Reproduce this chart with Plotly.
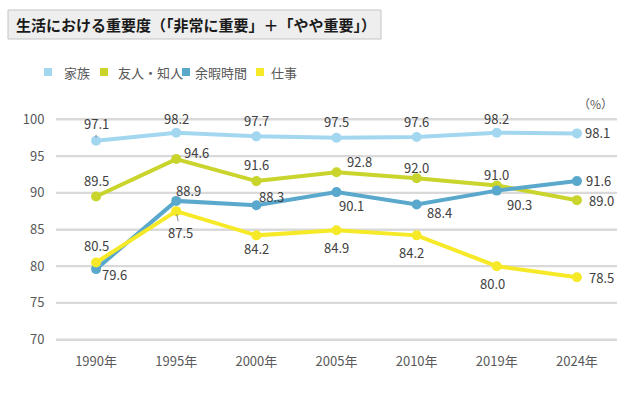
import plotly.graph_objects as go

years = ["1990年", "1995年", "2000年", "2005年", "2010年", "2019年", "2024年"]
family = [97.1, 98.2, 97.7, 97.5, 97.6, 98.2, 98.1]
friends = [89.5, 94.6, 91.6, 92.8, 92.0, 91.0, 89.0]
leisure = [79.6, 88.9, 88.3, 90.1, 88.4, 90.3, 91.6]
work = [80.5, 87.5, 84.2, 84.9, 84.2, 80.0, 78.5]
y_ticks = [70, 75, 80, 85, 90, 95, 100]

names = ["家族", "友人・知人", "余暇時間", "仕事"]
colors = ["#a3d7f0", "#c9d42c", "#5aa9cc", "#f6e927"]
series = [family, friends, leisure, work]

# label offsets (px) relative to each point: (xshift, yshift)
offsets = [
    [(0, 17), (0, 14.5), (0, 16), (0, 16.5), (0, 16), (0, 14.5), (21, 1)],
    [(0, 16), (20, 7), (0, 17), (23, 10.5), (0, 11), (0, 11), (25, 0)],
    [(18, -5), (12, 10), (15, 9), (15, -13.5), (23, -8), (23, -14), (22, 1)],
    [(0, 17), (4, -21), (0, -13), (0, -17), (-5, -17), (-4, -17), (25, 0)],
]
arrow_pts = {(0, 0), (3, 1)}

FONT = "Noto Sans CJK JP"
GRID = "#d9d9d9"
W, H = 640, 409
ML, MR, MT, MB = 56, 23, 118, 68
PW, PH = W - ML - MR, H - MT - MB
Y0, Y1 = 69.8, 100.2
UNIT_PX = PH / (Y1 - Y0)


def px(x, y):
    return (x - ML) / PW, (H - MB - y) / PH


fig = go.Figure()

for name, col, vals in zip(names, colors, series):
    fig.add_trace(go.Scatter(
        x=years, y=vals, mode="lines+markers", name=name,
        line=dict(color=col, width=4), marker=dict(color=col, size=10),
        showlegend=False, cliponaxis=False, hoverinfo="skip"))

annotations = []
shapes = []

# horizontal gridlines as thin filled bands (2px tall) beneath the data
half = 1.0 / UNIT_PX
for t in y_ticks:
    shapes.append(dict(type="rect", xref="paper", yref="y", x0=0, x1=1,
                       y0=t - half, y1=t + half, layer="below",
                       fillcolor=GRID, line=dict(width=0)))

for si, (vals, offs) in enumerate(zip(series, offsets)):
    for pi, (yr, v) in enumerate(zip(years, vals)):
        dx, dy = offs[pi]
        txt = f"{v:.1f}"
        if (si, pi) in arrow_pts:
            annotations.append(dict(
                x=yr, y=v, xref="x", yref="y", text=txt, showarrow=True,
                ax=dx, ay=-dy, arrowhead=0, arrowwidth=1, arrowcolor="#8a8a8a",
                standoff=3, font=dict(family=FONT, size=13, color="#404040")))
        else:
            annotations.append(dict(
                x=yr, y=v, xref="x", yref="y", text=txt, showarrow=False,
                xshift=dx, yshift=dy, xanchor="center", yanchor="middle",
                font=dict(family=FONT, size=13, color="#404040")))

# legend: colored squares + text
leg_sq_x = [44, 100, 182, 256]
leg_tx_x = [62, 116, 193, 269]
LEG_Y = 72
for n, c, sx, tx in zip(names, colors, leg_sq_x, leg_tx_x):
    x0, y0 = px(sx, LEG_Y + 4)
    x1, y1 = px(sx + 8, LEG_Y - 4)
    shapes.append(dict(type="rect", xref="paper", yref="paper",
                       x0=x0, y0=y0, x1=x1, y1=y1,
                       fillcolor=c, line=dict(width=0)))
    ax_, ay_ = px(tx, LEG_Y)
    annotations.append(dict(
        xref="paper", yref="paper", x=ax_, y=ay_, xanchor="left",
        yanchor="middle", text=n, showarrow=False,
        font=dict(family=FONT, size=13, color="#595959")))

# title box
bx0, by0 = px(8, 39)
bx1, by1 = px(381, 10)
shapes.append(dict(type="rect", xref="paper", yref="paper",
                   x0=bx0, y0=by0, x1=bx1, y1=by1,
                   fillcolor="#eeeeee", line=dict(color="#c4c4c4", width=1)))
tx_, ty_ = px(14, 24.5)
annotations.append(dict(
    xref="paper", yref="paper", x=tx_, y=ty_,
    xanchor="left", yanchor="middle", align="left", showarrow=False,
    text="<b>生活における重要度（「非常に重要」＋「やや重要」）</b>",
    font=dict(family=FONT, size=15, color="#1a1a1a")))

px_, py_ = px(615, 103)
annotations.append(dict(
    xref="paper", yref="paper", x=px_, y=py_,
    xanchor="right", yanchor="middle", text="（%）", showarrow=False,
    font=dict(family=FONT, size=12, color="#595959")))

fig.update_layout(
    width=W, height=H,
    margin=dict(l=ML, r=MR, t=MT, b=MB),
    paper_bgcolor="white", plot_bgcolor="white",
    annotations=annotations, shapes=shapes,
    showlegend=False,
    xaxis=dict(type="category", range=[-0.5, 6.5], showgrid=False,
               showline=False, zeroline=False,
               ticks="outside", ticklen=8, tickcolor="rgba(0,0,0,0)",
               tickfont=dict(family=FONT, size=13, color="#595959")),
    yaxis=dict(range=[Y0, Y1], tickmode="array", tickvals=y_ticks,
               showgrid=True, gridcolor=GRID, gridwidth=1.5,
               zeroline=False, showline=False,
               ticks="outside", ticklen=8, tickcolor="rgba(0,0,0,0)",
               tickfont=dict(family=FONT, size=13, color="#595959")),
)

fig.write_html("out.html", config={"displayModeBar": False},
               post_script="document.body.style.margin='0';")
